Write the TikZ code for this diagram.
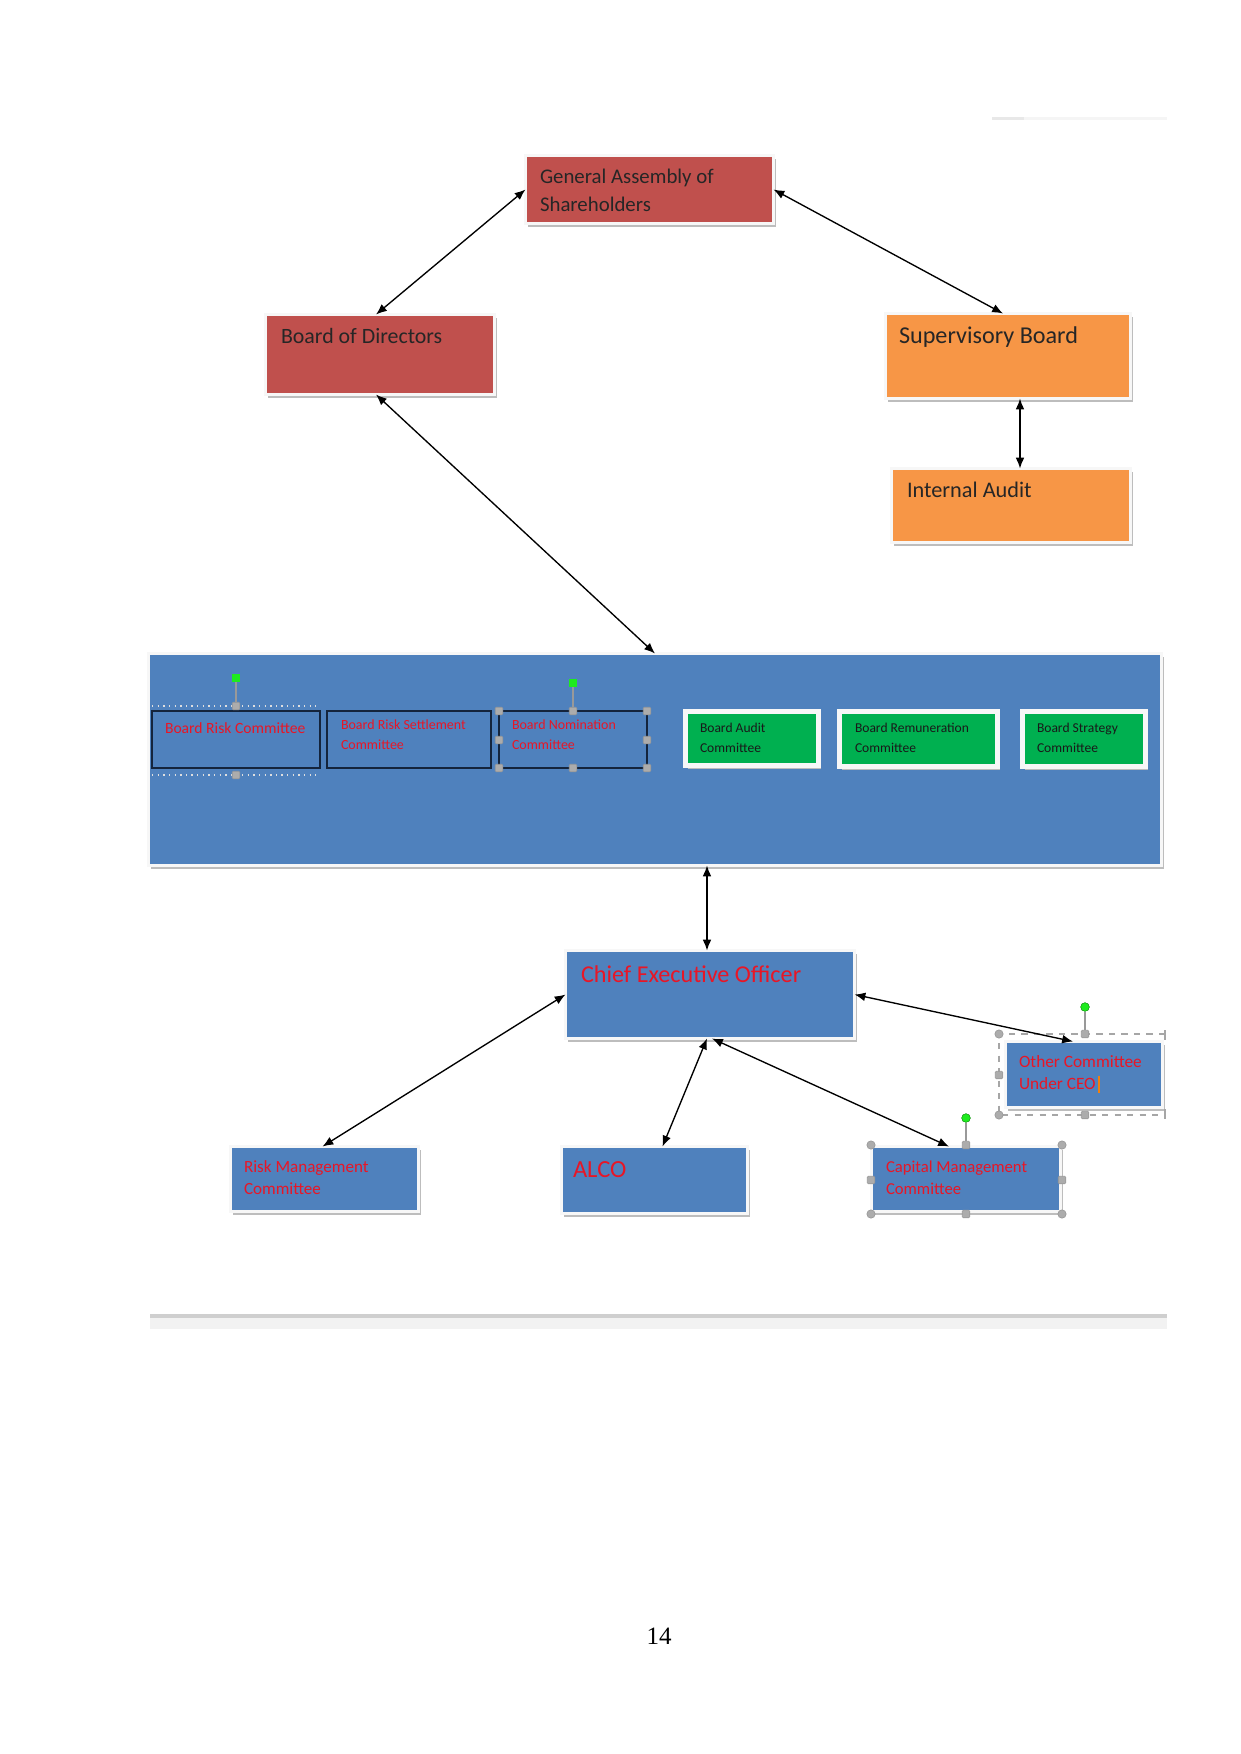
\documentclass[tikz,border=0pt]{standalone}
\usepackage{fontspec}
\setmainfont{Carlito}
\newfontfamily\pnfont{Liberation Serif}
\usetikzlibrary{arrows.meta,shadows,calc}
\definecolor{boxred}{RGB}{192,80,77}
\definecolor{boxorange}{RGB}{247,150,70}
\definecolor{boxblue}{RGB}{79,129,189}
\definecolor{boxgreen}{RGB}{0,176,80}
\definecolor{txtred}{RGB}{232,22,38}
\definecolor{navy}{RGB}{20,36,60}
\definecolor{hgreen}{RGB}{30,235,30}
\newcommand\fs[2]{\fontsize{#1}{#2}\selectfont}
% framed box: name, x1,y1,x2,y2 of the fill, style
\newcommand\bx[6]{%
  \pgfmathsetmacro\bxw{(#4-#2+3)*0.48}%
  \pgfmathsetmacro\bxh{(#5-#3+3)*0.48}%
  \node[#6, minimum width=\bxw pt, minimum height=\bxh pt] (#1) at ({(#2+#4)/2},{(#3+#5)/2}) {};}
% outline box
\newcommand\ob[6]{%
  \pgfmathsetmacro\bxw{(#4-#2)*0.48}%
  \pgfmathsetmacro\bxh{(#5-#3)*0.48}%
  \node[#6, minimum width=\bxw pt, minimum height=\bxh pt] (#1) at ({(#2+#4)/2},{(#3+#5)/2}) {};}
% text: name, x, baseline y, font, colour, text
\newcommand\tx[6]{\node[anchor=base west, inner sep=0pt, outer sep=0pt, text=#5, font=#4] (#1) at (#2,#3) {\parbox[t]{200pt}{\raggedright #6}};}
\begin{document}
\begin{tikzpicture}[x=0.48pt,y=-0.48pt,
  framed/.style={rectangle, draw=white!94!gray, line width=1.44pt, inner sep=0pt, outer sep=0pt,
     drop shadow={shadow xshift=1.1pt, shadow yshift=-1.6pt, fill=black!26, opacity=1}},
  outl/.style={rectangle, draw=navy, line width=0.7pt, inner sep=0pt, outer sep=0pt},
  arr/.style={{Latex[length=5.2pt,width=4.2pt]}-{Latex[length=5.2pt,width=4.2pt]}, line width=0.65pt, black},
  hsq/.style={rectangle, fill=gray!65, draw=gray!80, line width=0.3pt, minimum size=3.6pt, inner sep=0pt, rounded corners=0.5pt},
  hci/.style={circle, fill=gray!65, draw=gray!80, line width=0.3pt, minimum size=4pt, inner sep=0pt},
  gsq/.style={rectangle, fill=hgreen, minimum size=3.4pt, inner sep=0pt},
  gci/.style={circle, fill=hgreen, draw=green!50!black, line width=0.2pt, minimum size=4.2pt, inner sep=0pt},
  hline/.style={draw=gray!80, line width=0.6pt},
]
\useasboundingbox (0,0) rectangle (1241,1754);

% faint top line and bottom rule
\fill[gray!8] (992,117) rectangle (1167,120);
\fill[gray!18] (992,117) rectangle (1024,120);
\fill[gray!10] (150,1317) rectangle (1167,1329);
\fill[gray!38] (150,1314) rectangle (1167,1318);

% top boxes
\bx{ga}{527}{157}{772}{222}{framed, fill=boxred}
\bx{bod}{267}{316}{493}{393}{framed, fill=boxred}
\bx{sb}{887}{315}{1129}{397}{framed, fill=boxorange}
\bx{ia}{893}{470}{1129}{541}{framed, fill=boxorange}
\tx{gat}{540}{183}{\fs{10}{13.9}}{black!85}{General Assembly of\\Shareholders}
\tx{bodt}{281}{343}{\fs{10.5}{12}}{black!85}{Board of Directors}
\tx{sbt}{899}{343}{\fs{11.6}{13}}{black!85}{Supervisory Board}
\tx{iat}{907}{497}{\fs{10.7}{13}}{black!85}{Internal Audit}

% board panel
\bx{panel}{150}{655}{1160}{864}{framed, fill=boxblue}

% left committees (outlined)
\draw[white!75!gray, dotted, line width=0.7pt] (152,706) -- (316,706);
\draw[white!75!gray, dotted, line width=0.7pt] (152,775) -- (316,775);
\ob{brc}{152}{711}{320}{768}{outl}
\ob{brsc}{327}{711}{491}{768}{outl}
\ob{bnc}{499}{711}{647}{768}{outl}
\tx{brct}{165}{733}{\fs{7.5}{9.6}}{txtred}{Board Risk Committee}
\tx{brsct}{341}{729}{\fs{6.7}{9.6}}{txtred}{Board Risk Settlement\\Committee}
\tx{bnct}{512}{729}{\fs{6.7}{9.6}}{txtred}{Board Nomination\\Committee}

% handles for Board Risk Committee
\node[gsq] (g1) at (236,678) {};
\node[hsq] (h1) at (236,706) {};
\node[hsq] (h2) at (236,775) {};
\draw[hline] (g1) -- (h1);

% handles for Board Nomination Committee
\node[gsq] (g2) at (573,683) {};
\node[hsq] (h3) at (573,711) {};
\draw[hline] (g2) -- (h3);
\node[hsq] (h4) at (499,711) {};
\node[hsq] (h5) at (647,711) {};
\node[hsq] (h6) at (499,740) {};
\node[hsq] (h7) at (647,740) {};
\node[hsq] (h8) at (499,768) {};
\node[hsq] (h9) at (573,768) {};
\node[hsq] (h10) at (647,768) {};

% green committees
\bx{bac}{687}{713}{817}{764}{framed, fill=boxgreen, line width=2pt}
\bx{brem}{841}{713}{996}{765}{framed, fill=boxgreen, line width=2pt}
\bx{bsc}{1024}{713}{1144}{765}{framed, fill=boxgreen, line width=2pt}
\tx{bact}{700}{732}{\fs{6.5}{9.6}}{black!90}{Board Audit\\Committee}
\tx{bremt}{855}{732}{\fs{6.5}{9.6}}{black!90}{Board Remuneration\\Committee}
\tx{bsct}{1037}{732}{\fs{6.5}{9.6}}{black!90}{Board Strategy\\Committee}

% CEO level
\bx{ceo}{567}{952}{853}{1037}{framed, fill=boxblue}
\tx{ceot}{581}{982}{\fs{11.6}{13}}{txtred}{Chief Executive Officer}

\bx{oc}{1007}{1043}{1161}{1106}{framed, fill=boxblue}
\tx{oct}{1019}{1067}{\fs{8.3}{10.6}}{txtred}{Other Committee\\Under CEO}
\draw[orange!80!brown, line width=0.5pt] (1099,1076) -- (1099,1093);
\draw[gray!70, dashed, line width=0.5pt] (1165,1034) -- (999,1034) -- (999,1115) -- (1165,1115);
\draw[gray!70, line width=0.5pt] (1165,1030) -- (1165,1040);
\draw[gray!70, line width=0.5pt] (1165,1109) -- (1165,1119);
\node[gci] (g3) at (1085,1007) {};
\node[hsq] (h11) at (1085,1034) {};
\draw[hline] (g3) -- (h11);
\node[hci] (h12) at (999,1034) {};
\node[hsq] (h13) at (999,1075) {};
\node[hci] (h14) at (999,1115) {};
\node[hsq] (h15) at (1085,1115) {};

\bx{rmc}{232}{1148}{417}{1210}{framed, fill=boxblue}
\bx{alco}{563}{1148}{746}{1212}{framed, fill=boxblue}
\bx{cmc}{873}{1148}{1059}{1210}{framed, fill=boxblue}
\tx{rmct}{244}{1172}{\fs{8.2}{10.6}}{txtred}{Risk Management\\Committee}
\tx{alcot}{573}{1177}{\fs{11.8}{13}}{txtred}{ALCO}
\tx{cmct}{886}{1172}{\fs{8}{10.6}}{txtred}{Capital Management\\Committee}

% handles for Capital Management Committee
\node[gci] (g4) at (966,1118) {};
\node[hsq] (h16) at (966,1145) {};
\draw[hline] (g4) -- (h16);
\node[hci] (h17) at (871,1145) {};
\node[hci] (h18) at (1062,1145) {};
\node[hsq] (h19) at (871,1180) {};
\node[hsq] (h20) at (1062,1180) {};
\node[hci] (h21) at (871,1214) {};
\node[hsq] (h22) at (966,1214) {};
\node[hci] (h23) at (1062,1214) {};

% connectors
\draw[arr] (ga.west) -- ($(bod.north)+(-4,0)$);
\draw[arr] (ga.east) -- ($(sb.north)+(-5,0)$);
\draw[arr] ($(sb.south)+(12,0)$) -- ($(ia.north)+(9,0)$);
\draw[arr] ($(bod.south)+(-4,0)$) -- (panel.north);
\draw[arr] ($(panel.south)+(52,0)$) -- ($(ceo.north)+(-3,0)$);
\draw[arr] (ceo.west) -- ($(rmc.north)+(-2,0)$);
\draw[arr] ($(ceo.south)+(-3,0)$) -- ($(alco.north)+(8,0)$);
\draw[arr] ($(ceo.south)+(2,0)$) -- ($(cmc.north)+(-17,0)$);
\draw[arr] (ceo.east) -- ($(oc.north)+(-11,0)$);

% page number
\node[font=\pnfont\fs{12}{14}, inner sep=0pt] (pn) at (659,1636) {14};
\end{tikzpicture}
\end{document}
